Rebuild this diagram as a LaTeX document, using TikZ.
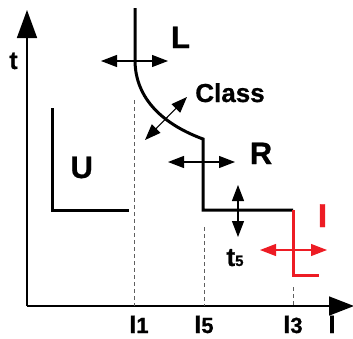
\documentclass[tikz,border=0pt]{standalone}
\usepackage{fontspec}
\setmainfont{Liberation Sans}[BoldFeatures={FakeBold=0.8}]
\usetikzlibrary{arrows.meta}
\definecolor{cred}{RGB}{237,28,36}
\definecolor{dgray}{RGB}{95,95,95}
\begin{document}
\begin{tikzpicture}[x=1pt,y=-1pt,
  lbl/.style={inner sep=0pt, anchor=base},
  big/.style={lbl, font=\bfseries\fontsize{31}{31}\selectfont},
  curve/.style={line width=3pt, line join=miter},
  dbl/.style={line width=1.1pt, {Triangle[length=16pt,width=12pt]}-{Triangle[length=16pt,width=12pt]}},
  axis/.style={line width=1.6pt},
  guide/.style={dgray, line width=0.9pt, dash pattern=on 4pt off 3pt}]
\useasboundingbox (0,0) rectangle (353,338);
% axes
\coordinate (O) at (27,306);
\coordinate (ytip) at (27,10);
\coordinate (xtip) at (354,306);
\draw[axis, -{Triangle[length=28pt,width=20pt]}] (O) -- (ytip);
\draw[axis, -{Triangle[length=25pt,width=19pt]}] (O) -- (xtip);
% guide lines
\draw[guide] (134.5,100) -- (134.5,306);
\draw[guide] (204,227) -- (204,306);
\draw[guide] (293,287) -- (293,306);
% U characteristic
\draw[curve] (52,108) -- (52,210) -- (129,210);
% L / Class / R / t5 characteristic
\draw[curve] (135,8) -- (135,60) .. controls (135,100) and (165,125) .. (203,139) -- (203,210) -- (293,210);
% I characteristic
\draw[curve, cred] (293,210) -- (293,275) -- (319,275);
% double arrows
\coordinate (La) at (101,61);  \coordinate (Lb) at (168,61);
\coordinate (Ca) at (145,140); \coordinate (Cb) at (187,97);
\coordinate (Ra) at (168,162); \coordinate (Rb) at (235,162);
\coordinate (Ta) at (238,185); \coordinate (Tb) at (238,237);
\coordinate (Ia) at (260,250); \coordinate (Ib) at (327,250);
\draw[dbl] (La) -- (Lb);
\draw[dbl] (Ca) -- (Cb);
\draw[dbl] (Ra) -- (Rb);
\draw[dbl] (Ta) -- (Tb);
\draw[dbl, cred] (Ia) -- (Ib);
% labels
\node[lbl, font=\bfseries\fontsize{25}{25}\selectfont] (tlab) at (13.5,69) {t};
\node[big] (Llab) at (180.5,48) {L};
\node[big] (Ulab) at (81.7,178) {U};
\node[big] (Rlab) at (261,164) {R};
\node[lbl, font=\bfseries\fontsize{26}{26}\selectfont] (Clab) at (230,102) {Class};
\node[lbl, font=\bfseries] (t5lab) at (235,266) {\fontsize{26}{26}\selectfont t\fontsize{15}{15}\selectfont 5};
\node[lbl, font=\bfseries\fontsize{33}{33}\selectfont, text=cred] (Ilab) at (322.5,227) {I};
\node[lbl, font=\bfseries] (I1) at (139,333) {\fontsize{25}{25}\selectfont I\fontsize{22}{22}\selectfont 1};
\node[lbl, font=\bfseries] (I5) at (204,333) {\fontsize{25}{25}\selectfont I\fontsize{22}{22}\selectfont 5};
\node[lbl, font=\bfseries] (I3) at (293,333) {\fontsize{25}{25}\selectfont I\fontsize{22}{22}\selectfont 3};
\node[lbl, font=\bfseries\fontsize{25}{25}\selectfont] (Iax) at (332,333) {I};
\end{tikzpicture}
\end{document}
